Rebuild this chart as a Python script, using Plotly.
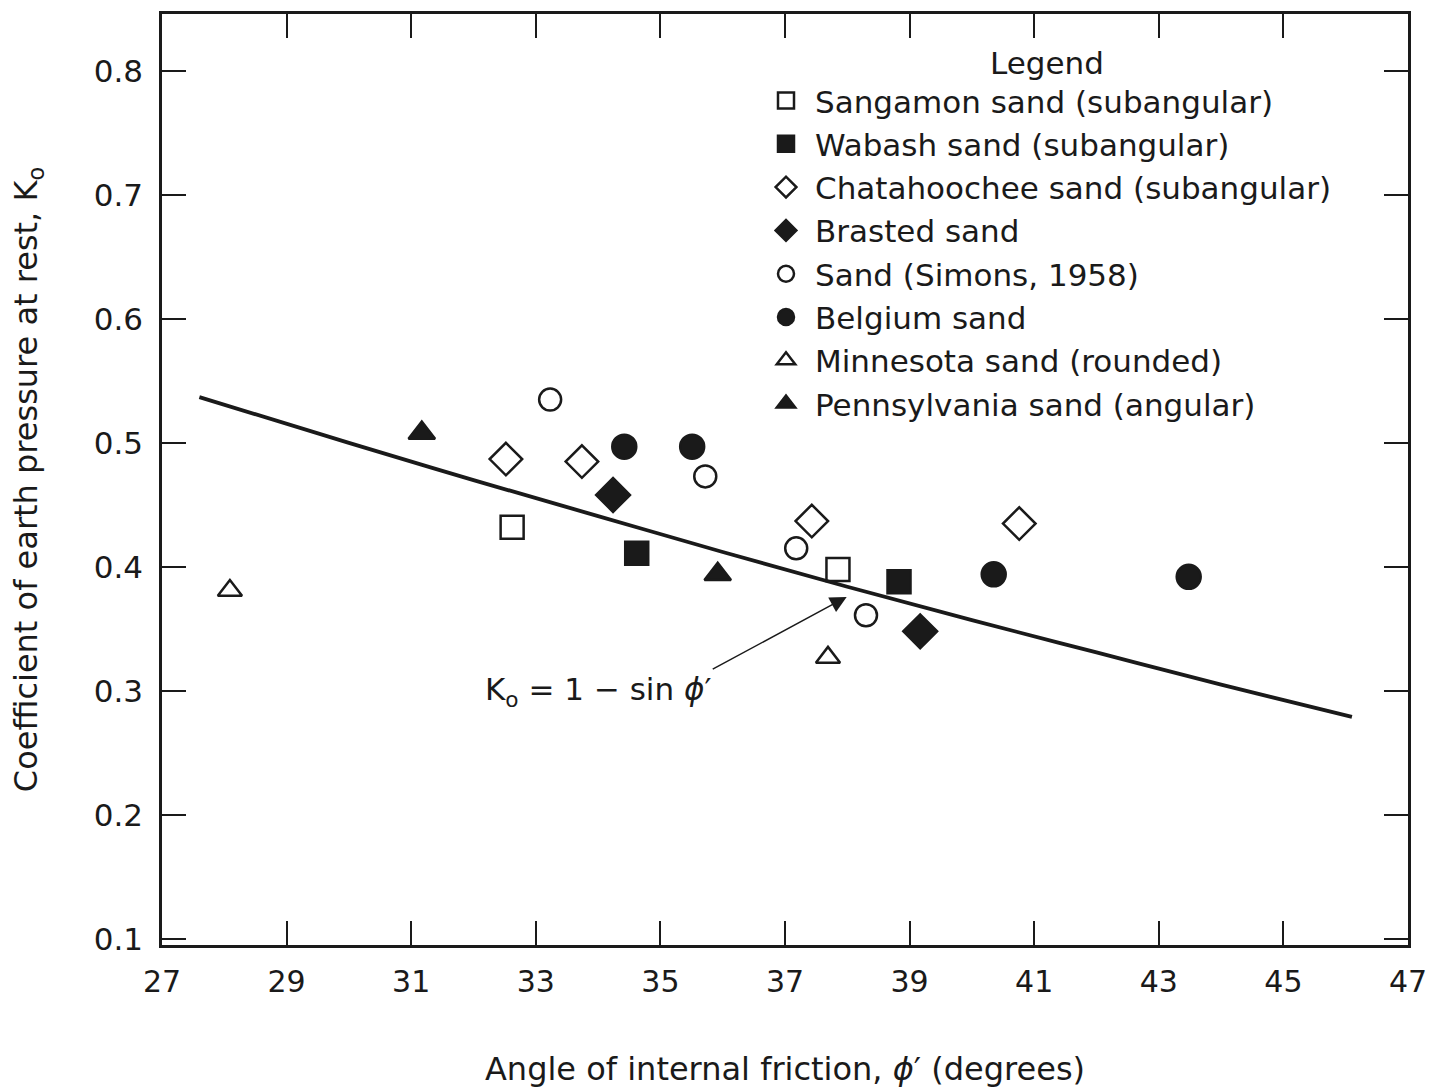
import plotly.graph_objects as go

# ---- data ----
sangamon_x = [32.62, 37.85]
sangamon_y = [0.432, 0.398]
wabash_x = [34.62, 38.83]
wabash_y = [0.411, 0.388]
chata_x = [32.52, 33.74, 37.43, 40.76]
chata_y = [0.487, 0.485, 0.437, 0.435]
brasted_x = [34.24, 39.17]
brasted_y = [0.458, 0.348]
simons_x = [33.23, 35.72, 37.18, 38.30]
simons_y = [0.535, 0.473, 0.415, 0.361]
belgium_x = [34.42, 35.51, 40.35, 43.48]
belgium_y = [0.497, 0.497, 0.394, 0.392]
minnesota_x = [28.09, 37.69]
minnesota_y = [0.381, 0.327]
penn_x = [31.17, 35.92]
penn_y = [0.508, 0.394]

line_x = [27.6, 30, 32, 34, 36, 38, 40, 42, 44, 46.1]
line_y = [0.537, 0.500, 0.470, 0.441, 0.412, 0.384, 0.357, 0.331, 0.305, 0.279]

x_ticks = [27, 29, 31, 33, 35, 37, 39, 41, 43, 45, 47]
y_ticks = [0.1, 0.2, 0.3, 0.4, 0.5, 0.6, 0.7, 0.8]

INK = "#1a1a1a"
BODY = "DejaVu Sans, Liberation Sans, Arial, sans-serif"

series = [
    ("Sangamon sand (subangular)", sangamon_x, sangamon_y, "square-open", 23),
    ("Wabash sand (subangular)", wabash_x, wabash_y, "square", 23),
    ("Chatahoochee sand (subangular)", chata_x, chata_y, "diamond-open", 25),
    ("Brasted sand", brasted_x, brasted_y, "diamond", 26),
    ("Sand (Simons, 1958)", simons_x, simons_y, "circle-open", 22),
    ("Belgium sand", belgium_x, belgium_y, "circle", 24),
    ("Minnesota sand (rounded)", minnesota_x, minnesota_y, "triangle-up-open", 21),
    ("Pennsylvania sand (angular)", penn_x, penn_y, "triangle-up", 23),
]

fig = go.Figure()

fig.add_trace(go.Scatter(
    x=line_x, y=line_y, mode="lines", showlegend=False, name="Ko = 1 - sin phi'",
    line=dict(color=INK, width=3.8, shape="spline"), hoverinfo="skip",
))

for name, xs, ys, sym, sz in series:
    fig.add_trace(go.Scatter(
        x=xs, y=ys, mode="markers", name=name,
        marker=dict(symbol=sym, size=sz, color=INK,
                    line=dict(color=INK, width=2.5)),
    ))

axis_common = dict(
    showgrid=False, zeroline=False, showline=True, linecolor=INK, linewidth=2.5,
    mirror="ticks", ticks="inside", ticklen=24, tickwidth=2, tickcolor=INK,
    automargin=False,
)

fig.update_xaxes(
    range=[27, 47], tickvals=x_ticks, ticktext=[str(v) for v in x_ticks],
    tickfont=dict(family=BODY, size=30, color=INK),
    title=dict(text="Angle of internal friction, <i>ϕ</i>′ (degrees)",
               font=dict(family=BODY, size=32, color=INK), standoff=60),
    ticklabelstandoff=8,
    **axis_common,
)
fig.update_yaxes(
    range=[0.095, 0.846], tickvals=y_ticks, ticktext=[f"{v:.1f}" for v in y_ticks],
    tickfont=dict(family=BODY, size=31, color=INK),
    title=dict(text="Coefficient of earth pressure at rest, K<sub>o</sub>",
               font=dict(family=BODY, size=32, color=INK), standoff=47),
    ticklabelstandoff=10,
    **axis_common,
)

fig.add_annotation(
    x=37.99, y=0.3758, ax=35.84, ay=0.3175, xref="x", yref="y", axref="x", ayref="y",
    text="K<sub>o</sub> = 1 − sin <i>ϕ</i>′", showarrow=True,
    xanchor="right", yanchor="top",
    font=dict(family=BODY, size=31, color=INK),
    arrowhead=2, arrowsize=2.2, arrowwidth=1.5, arrowcolor=INK,
    standoff=0, startstandoff=0,
)

fig.update_layout(
    width=1434, height=1089,
    margin=dict(l=162, r=26, t=14, b=144),
    paper_bgcolor="white", plot_bgcolor="white",
    font=dict(family=BODY, color=INK),
    legend=dict(
        x=(757 - 162) / 1246, xanchor="left",
        y=0.979, yanchor="top",
        bgcolor="rgba(0,0,0,0)", borderwidth=0,
        font=dict(family=BODY, size=31, color=INK),
        title=dict(text="Legend", side="top center",
                   font=dict(family=BODY, size=31, color=INK)),
        itemsizing="trace", tracegroupgap=0, itemwidth=48,
    ),
)

fig.write_html("out.html")
